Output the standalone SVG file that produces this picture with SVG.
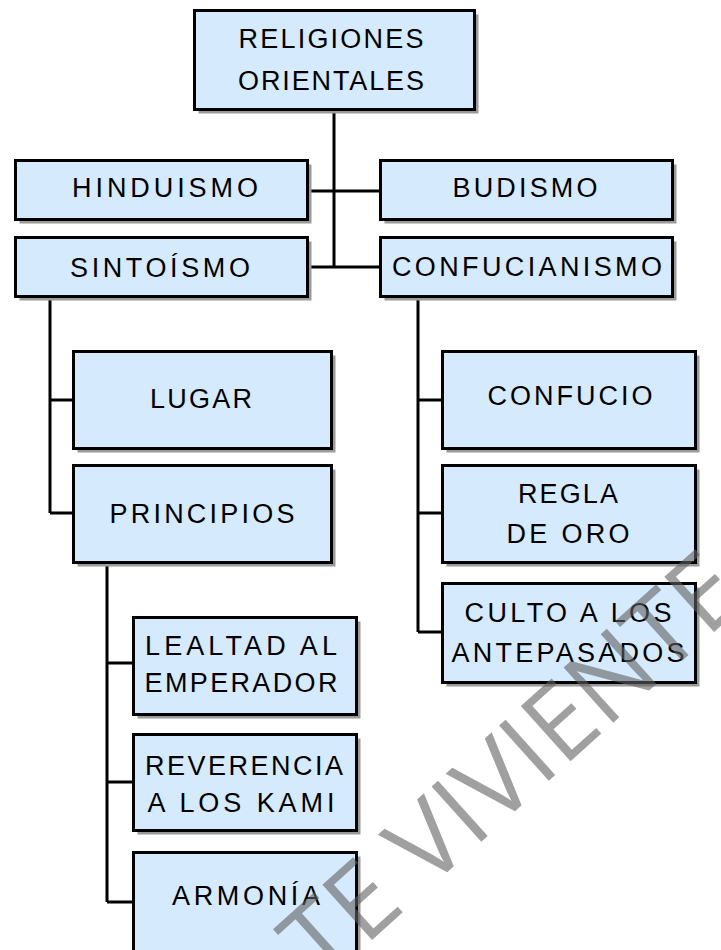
<svg xmlns="http://www.w3.org/2000/svg" width="721" height="950" viewBox="0 0 721 950">
<defs>
<style>
.sh{fill:#9a9a9a;}
.bx{fill:#d6eafd;stroke:#000;stroke-width:3;}
.t{font-family:"Liberation Sans",Arial,sans-serif;font-size:27px;fill:#000;text-anchor:middle;}
.c{fill:none;stroke:#000;stroke-width:3;}
.wm{font-family:"Open Sans","Liberation Sans",Arial,sans-serif;font-weight:400;font-size:104px;fill:#606060;fill-opacity:0.6;}
</style>
</defs>
<rect width="721" height="950" fill="#fff"/>
<g id="connectors">
<path class="c" d="M334 111V268M308 191H380M308 267H380"/>
<path class="c" d="M50 297V513M50 400H74M50 513H74"/>
<path class="c" d="M107 563V902M107 663H134M107 782H134M107 902H134"/>
<path class="c" d="M418 297V632M418 400H443M418 513H443M418 632H443"/>
</g>
<g id="n-religiones">
<rect class="sh" x="198.5" y="14.5" width="280" height="99"/>
<rect class="bx" x="194.5" y="10.5" width="280" height="99"/>
<text class="t" x="331" y="48" textLength="185" lengthAdjust="spacing">RELIGIONES</text>
<text class="t" x="331" y="90" textLength="186" lengthAdjust="spacing">ORIENTALES</text>
</g>
<g id="n-hinduismo">
<rect class="sh" x="19.5" y="164.5" width="292" height="59"/>
<rect class="bx" x="15.5" y="160.5" width="292" height="59"/>
<text class="t" x="165" y="197" textLength="186" lengthAdjust="spacing">HINDUISMO</text>
</g>
<g id="n-budismo">
<rect class="sh" x="384.5" y="164.5" width="292" height="59"/>
<rect class="bx" x="380.5" y="160.5" width="292" height="59"/>
<text class="t" x="525" y="197" textLength="145" lengthAdjust="spacing">BUDISMO</text>
</g>
<g id="n-sintoismo">
<rect class="sh" x="19.5" y="241.5" width="292" height="59"/>
<rect class="bx" x="15.5" y="237.5" width="292" height="59"/>
<text class="t" x="160" y="277" textLength="180" lengthAdjust="spacing">SINTOÍSMO</text>
</g>
<g id="n-confucianismo">
<rect class="sh" x="384.5" y="241.5" width="292" height="59"/>
<rect class="bx" x="380.5" y="237.5" width="292" height="59"/>
<text class="t" x="527" y="276" textLength="270" lengthAdjust="spacing">CONFUCIANISMO</text>
</g>
<g id="n-lugar">
<rect class="sh" x="77.5" y="355.5" width="258" height="97"/>
<rect class="bx" x="73.5" y="351.5" width="258" height="97"/>
<text class="t" x="201" y="408" textLength="102" lengthAdjust="spacing">LUGAR</text>
</g>
<g id="n-principios">
<rect class="sh" x="77.5" y="469.5" width="258" height="97"/>
<rect class="bx" x="73.5" y="465.5" width="258" height="97"/>
<text class="t" x="202" y="523" textLength="185" lengthAdjust="spacing">PRINCIPIOS</text>
</g>
<g id="n-lealtad">
<rect class="sh" x="137.5" y="621.5" width="223" height="97"/>
<rect class="bx" x="133.5" y="617.5" width="223" height="97"/>
<text class="t" x="241" y="655" textLength="192" lengthAdjust="spacing">LEALTAD AL</text>
<text class="t" x="241" y="692" textLength="193" lengthAdjust="spacing">EMPERADOR</text>
</g>
<g id="n-reverencia">
<rect class="sh" x="137.5" y="738.5" width="223" height="96"/>
<rect class="bx" x="133.5" y="734.5" width="223" height="96"/>
<text class="t" x="244" y="775" textLength="198" lengthAdjust="spacing">REVERENCIA</text>
<text class="t" x="241" y="812" textLength="187" lengthAdjust="spacing">A LOS KAMI</text>
</g>
<g id="n-armonia">
<rect class="sh" x="137.5" y="856.5" width="223" height="105"/>
<rect class="bx" x="133.5" y="852.5" width="223" height="105"/>
<text class="t" x="246" y="905" textLength="148" lengthAdjust="spacing">ARMONÍA</text>
</g>
<g id="n-confucio">
<rect class="sh" x="446.5" y="355.5" width="253" height="97"/>
<rect class="bx" x="442.5" y="351.5" width="253" height="97"/>
<text class="t" x="570" y="405" textLength="165" lengthAdjust="spacing">CONFUCIO</text>
</g>
<g id="n-regla">
<rect class="sh" x="446.5" y="469.5" width="253" height="97"/>
<rect class="bx" x="442.5" y="465.5" width="253" height="97"/>
<text class="t" x="568" y="503" textLength="100" lengthAdjust="spacing">REGLA</text>
<text class="t" x="568" y="543" textLength="123" lengthAdjust="spacing">DE ORO</text>
</g>
<g id="n-culto">
<rect class="sh" x="446.5" y="587.5" width="253" height="99"/>
<rect class="bx" x="442.5" y="583.5" width="253" height="99"/>
<text class="t" x="568" y="622" textLength="207" lengthAdjust="spacing">CULTO A LOS</text>
<text class="t" x="568" y="662" textLength="233" lengthAdjust="spacing">ANTEPASADOS</text>
</g>
<g id="watermark">
<text class="wm" transform="translate(322 985) rotate(-42)">TE VIVIENTE</text>
</g>
</svg>
